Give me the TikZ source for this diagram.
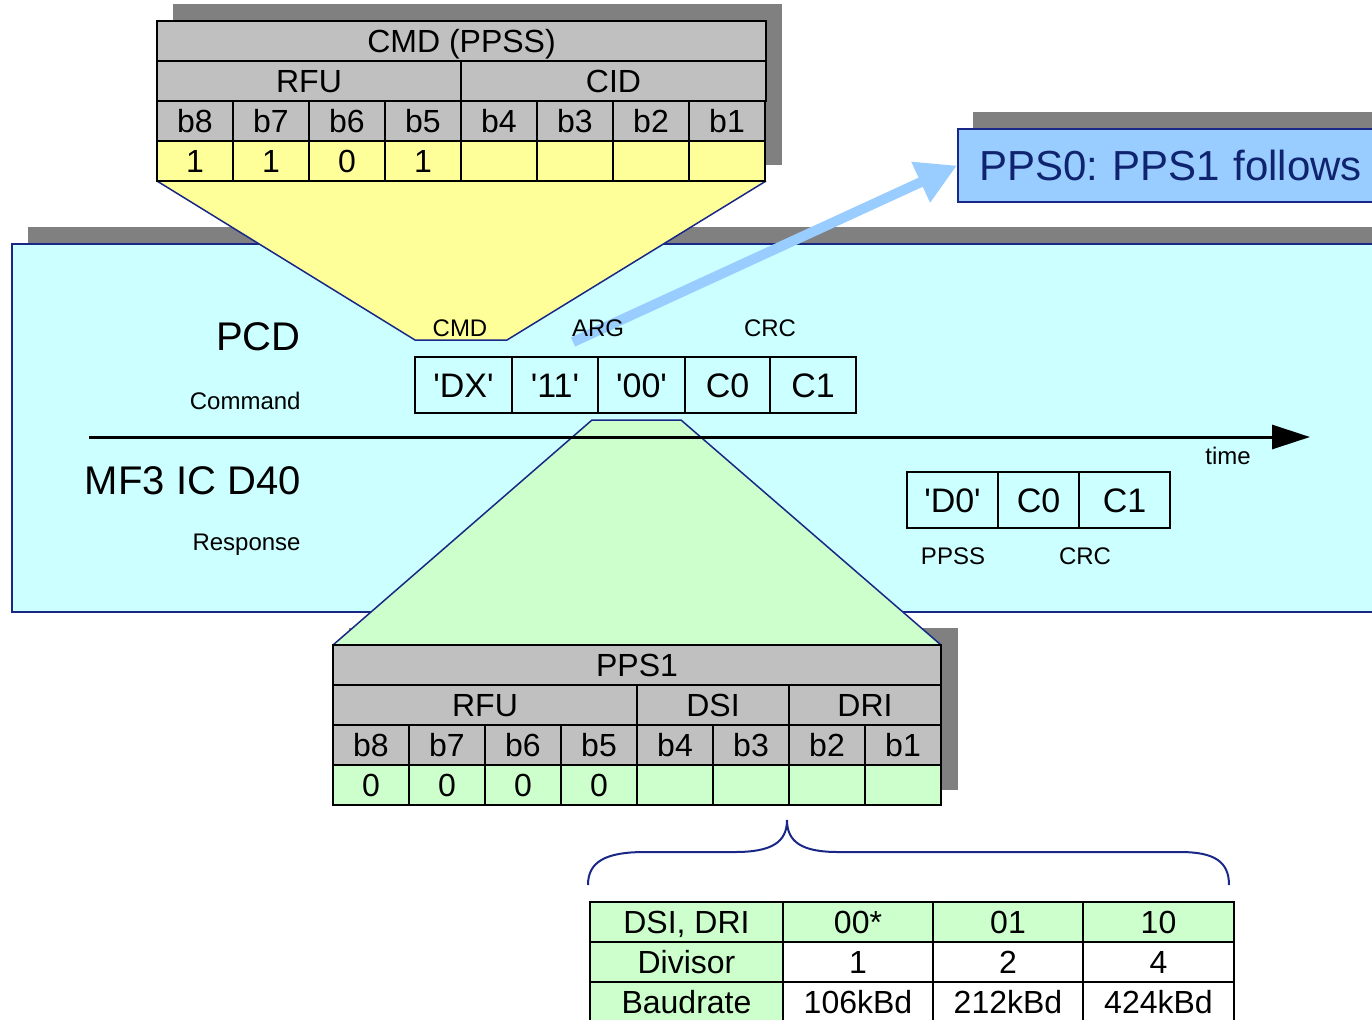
\documentclass[tikz,border=0pt]{standalone}
\usepackage{fontspec}
\setmainfont{Liberation Sans}
\usetikzlibrary{arrows.meta}

\definecolor{shadowgray}{RGB}{128,128,128}
\definecolor{hdrgray}{RGB}{192,192,192}
\definecolor{bityellow}{RGB}{255,255,153}
\definecolor{bitgreen}{RGB}{204,255,204}
\definecolor{panelcyan}{RGB}{204,255,255}
\definecolor{noteblue}{RGB}{153,204,255}
\definecolor{edgenavy}{RGB}{25,40,135}
\definecolor{textnavy}{RGB}{15,35,110}

\newcommand{\qt}{\textquotesingle}
\frenchspacing

\tikzset{
  cell/.style={draw, line width=1.2pt, minimum height=20pt, inner sep=0pt,
    text height=11.5pt, text depth=0pt, font=\fontsize{16}{19}\selectfont},
  framebox/.style={draw, line width=1.2pt, minimum height=28pt, inner sep=0pt,
    outer sep=0pt, text height=12.2pt, text depth=0pt,
    font=\fontsize{17}{20}\selectfont},
  small/.style={font=\fontsize{12}{14}\selectfont},
  big/.style={font=\fontsize{20}{24}\selectfont, inner sep=0pt},
  zoomedge/.style={draw=edgenavy, line width=0.75pt},
  notebox/.style={draw=edgenavy, line width=1pt, fill=noteblue, text=textnavy,
    minimum height=36.5pt, text width=200pt, align=left, inner xsep=10.5pt,
    font=\fontsize{21}{25}\selectfont},
}

\begin{document}
\begin{tikzpicture}[x=0.5pt, y=-0.5pt]
   \useasboundingbox (0,0) rectangle (1372,1019);
   \clip (0,0) rectangle (1372,1019);

   % timing panel
   \fill[shadowgray] (28,227) rectangle (1400,596);
   \filldraw[zoomedge, fill=panelcyan] (12,244) rectangle (1400,612);

   % zoom onto the CMD byte
   \fill[bityellow] (157,181) -- (766,181) -- (507,340) -- (415,340) -- cycle;
   \draw[zoomedge] (157,181) -- (415,340) -- (507,340) -- (766,181);

   % CMD (PPSS) byte
   \fill[shadowgray] (173,4) rectangle (782,165);
   \node[cell, fill=hdrgray, minimum width=304.5pt] (cmdtitle) at (461.5,41) {CMD (PPSS)};
   \node[cell, fill=hdrgray, minimum width=152pt] (cmdrfu) at (309,81) {RFU};
   \node[cell, fill=hdrgray, minimum width=152.5pt] (cmdcid) at (613.5,81) {CID};
   \foreach \v [count=\i from 0] in {1,1,0,1,{},{},{},{}} {
      \pgfmathtruncatemacro\n{8-\i}
      \node[cell, fill=hdrgray, minimum width=38pt] (cmdb\n) at (195+76*\i,121) {b\n};
      \node[cell, fill=bityellow, minimum width=38pt] (cmdv\n) at (195+76*\i,161) {\v};
   }

   % zoom onto the PPS1 byte
   \fill[shadowgray] (349,628) rectangle (958,790);
   \fill[bitgreen] (592,420) -- (681,420) -- (941,645) -- (333,645) -- cycle;
   \draw[zoomedge] (333,645) -- (592,420) -- (681,420) -- (941,645);

   % PPS1 byte
   \node[cell, fill=hdrgray, minimum width=304pt] (ppstitle) at (637,665) {PPS1};
   \node[cell, fill=hdrgray, minimum width=152pt] (ppsrfu) at (485,705) {RFU};
   \node[cell, fill=hdrgray, minimum width=76pt] (ppsdsi) at (713,705) {DSI};
   \node[cell, fill=hdrgray, minimum width=76pt] (ppsdri) at (865,705) {DRI};
   \foreach \v [count=\i from 0] in {0,0,0,0,{},{},{},{}} {
      \pgfmathtruncatemacro\n{8-\i}
      \node[cell, fill=hdrgray, minimum width=38pt] (ppsb\n) at (371+76*\i,745) {b\n};
      \node[cell, fill=bitgreen, minimum width=38pt] (ppsv\n) at (371+76*\i,785) {\v};
   }

   % time axis
   \coordinate (tstart) at (89,437);
   \coordinate (tend) at (1310,437);
   \draw[line width=1.5pt, -{Triangle[length=19pt,width=12pt]}] (tstart) -- (tend);
   \node[small] (timelbl) at (1228,456) {time};

   % PCD side
   \node[big, anchor=east] (pcd) at (301,337) {PCD};
   \node[small, anchor=east, inner sep=0pt] (cmdlbl) at (301,401) {Command};
   \node[big, anchor=east] (picc) at (301,481) {MF3 IC D40};
   \node[small, anchor=east, inner sep=0pt] (resplbl) at (301,545) {Response};

   % command frame
   \node[framebox, minimum width=48.5pt] (dx) at (463.5,385) {\qt DX\qt};
   \node[framebox, minimum width=43pt, anchor=west] (arg1) at (dx.east) {\qt 11\qt};
   \node[framebox, minimum width=43.5pt, anchor=west] (arg2) at (arg1.east) {\qt 00\qt};
   \node[framebox, minimum width=42.5pt, anchor=west] (crc0) at (arg2.east) {C0};
   \node[framebox, minimum width=43pt, anchor=west] (crc1) at (crc0.east) {C1};

   % PPS0 note
   \coordinate (argref) at (573,342);
   \draw[noteblue, line width=5pt, -{Triangle[length=20pt,width=21pt]}] (argref) -- (957,165.5);
   \fill[shadowgray] (973,112) rectangle (1400,186);
   \node[notebox, anchor=west] (pps0) at (957,165.5) {PPS0: PPS1 follows};

   \node[small] (lcmd) at (460,328) {CMD};
   \node[small] (larg) at (598,328) {ARG};
   \node[small] (lcrc) at (770,328) {CRC};

   % response frame
   \node[framebox, minimum width=45.5pt] (d0) at (952.5,500) {\qt D0\qt};
   \node[framebox, minimum width=40.5pt, anchor=west] (rcrc0) at (d0.east) {C0};
   \node[framebox, minimum width=45.5pt, anchor=west] (rcrc1) at (rcrc0.east) {C1};
   \node[small] (lppss) at (953,556) {PPSS};
   \node[small] (lrcrc) at (1085,556) {CRC};

   % brace over the baudrate table
   \draw[edgenavy, line width=1pt] (588,885) .. controls (588,862) and (605,852) .. (645,852)
      -- (735,852) .. controls (772,852) and (787,842) .. (787,820)
      .. controls (787,842) and (802,852) .. (838,852) -- (1180,852)
      .. controls (1215,852) and (1229,862) .. (1229,885);

   % DSI/DRI table
   \foreach \lbl/\va/\vb/\vc/\y/\fc [count=\r] in
      {{DSI, DRI}/00*/01/10/922/bitgreen, Divisor/1/2/4/962/white,
       Baudrate/106kBd/212kBd/424kBd/1002/white} {
      \node[cell, fill=bitgreen, minimum width=96.5pt] (rate\r a) at (686.5,\y) {\lbl};
      \node[cell, fill=\fc, minimum width=75pt] (rate\r b) at (858,\y) {\va};
      \node[cell, fill=\fc, minimum width=75pt] (rate\r c) at (1008,\y) {\vb};
      \node[cell, fill=\fc, minimum width=75.5pt] (rate\r d) at (1158.5,\y) {\vc};
   }
\end{tikzpicture}
\end{document}
